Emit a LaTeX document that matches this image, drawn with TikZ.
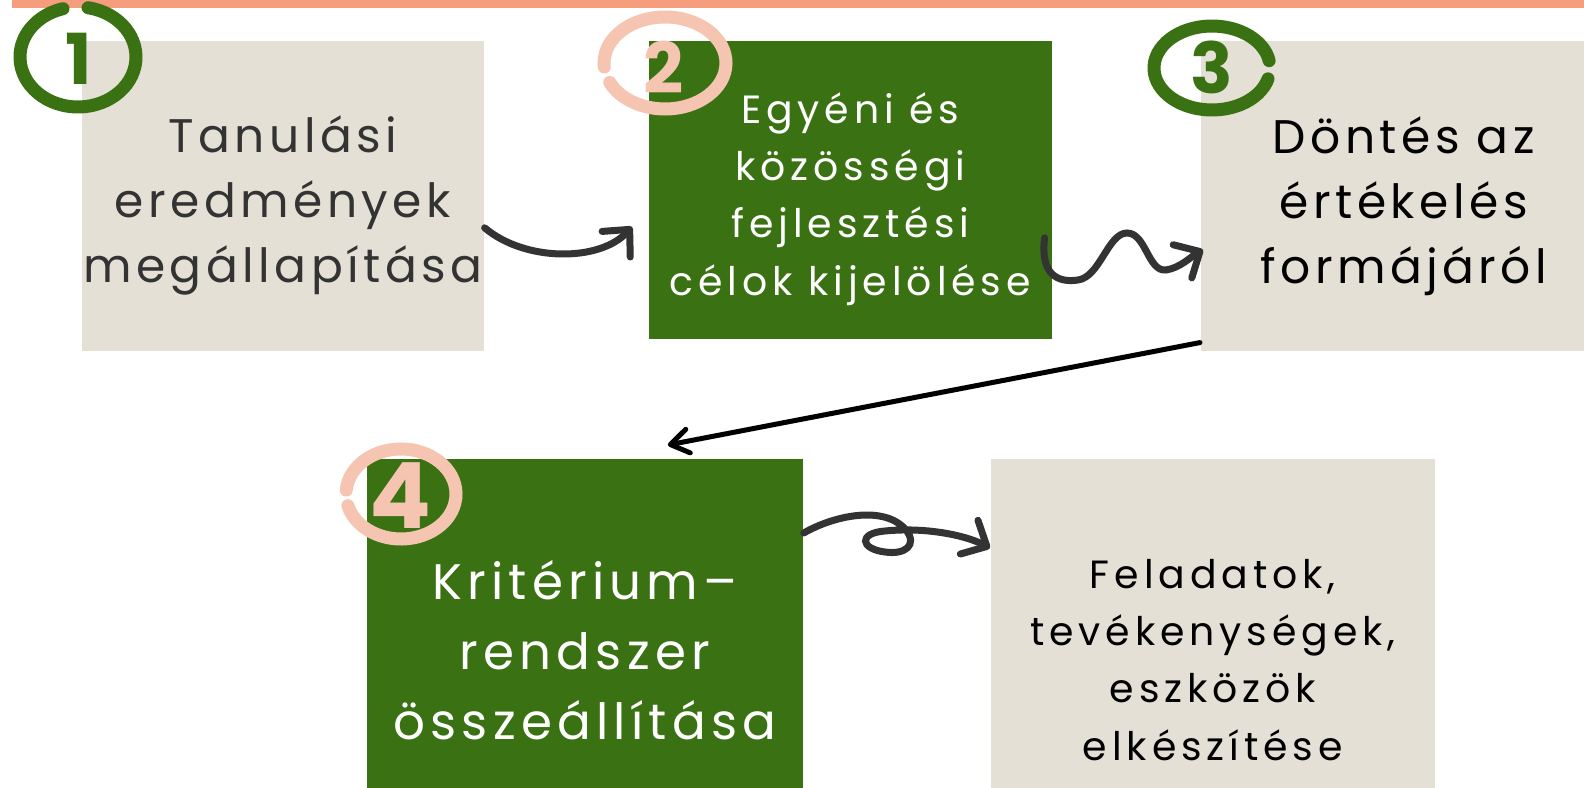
\documentclass[tikz,border=0pt]{standalone}
\usepackage{fontspec}
\setmainfont{Poppins}
\usetikzlibrary{arrows.meta}
\definecolor{barorange}{HTML}{F59D7D}
\definecolor{boxbeige}{HTML}{E4E0D6}
\definecolor{boxgreen}{HTML}{3A7213}
\definecolor{ringpink}{HTML}{F5C5B2}
\definecolor{inkgray}{HTML}{333333}
\tikzset{
	beigebox/.style={fill=boxbeige, inner sep=0pt, anchor=north west},
	greenbox/.style={fill=boxgreen, inner sep=0pt, anchor=north west},
	boxtext/.style={inner sep=0pt, align=center},
	bigtext/.style={boxtext, font=\addfontfeature{LetterSpace=9.5}\fontsize{13.4}{18.5}\selectfont},
	smalltext/.style={boxtext, font=\addfontfeature{LetterSpace=12.5}\fontsize{11.2}{16.3}\selectfont},
	ring/.style={line width=0.13cm, line cap=round},
	digit/.style={font=\bfseries\fontsize{20}{20}\selectfont, inner sep=0pt},
	curvy/.style={inkgray, line width=0.07cm, line cap=round, -{Straight Barb[length=0.2cm,width=0.38cm,round]}}
}
\begin{document}
\begin{tikzpicture}[x=0.01cm,y=-0.01cm]
	\useasboundingbox (0,0) rectangle (1584,788);
	\fill[barorange] (12,0) rectangle (1584,8);
	\node[beigebox, minimum width=4.02cm, minimum height=3.1cm] (b1) at (81,40) {};
	\node[greenbox, minimum width=4.03cm, minimum height=2.98cm] (b2) at (648,40) {};
	\node[beigebox, minimum width=4.02cm, minimum height=3.1cm] (b3) at (1200,40) {};
	\node[greenbox, minimum width=4.36cm, minimum height=3.82cm] (b4) at (366,458) {};
	\node[beigebox, minimum width=4.44cm, minimum height=4.02cm] (b5) at (990,458) {};
	\node[bigtext, text=inkgray] (t1) at ([yshift=-0.1cm]b1.center) {Tanulási\\eredmények\\megállapítása};
	\node[smalltext, text=white] (t2) at ([yshift=-0.09cm]b2.center) {Egyéni és\\közösségi\\fejlesztési\\célok kijelölése};
	\node[bigtext] (t3) at ([xshift=0.02cm,yshift=-0.1cm]b3.center) {Döntés az\\értékelés\\formájáról};
	\node[bigtext, text=white, font=\addfontfeature{LetterSpace=10.5}\fontsize{14.2}{19.9}\selectfont] (t4) at (b4.center) {Kritérium–\\rendszer\\összeállítása};
	\node[smalltext] (t5) at (b5.center) {Feladatok,\\tevékenységek,\\eszközök\\elkészítése};
	\draw[ring, boxgreen] (78,57) ++(-80:58 and 50) arc[start angle=-80, end angle=255, x radius=58, y radius=50];
	\draw[ring, ringpink] (665,63) ++(175:61 and 46) arc[start angle=175, end angle=515, x radius=61, y radius=46];
	\draw[ring, boxgreen] (1212,68) ++(15:58 and 42) arc[start angle=15, end angle=350, x radius=58, y radius=42];
	\draw[ring, ringpink] (401,494) ++(185:55 and 45) arc[start angle=185, end angle=525, x radius=55, y radius=45];
	\node[digit, text=boxgreen] (n1) at (79,59) {1};
	\node[digit, text=ringpink] (n2) at (664,67) {2};
	\node[digit, text=boxgreen] (n3) at (1212,67) {3};
	\node[digit, text=ringpink, font=\bfseries\fontsize{26}{26}\selectfont] (n4) at (400,496) {4};
	\draw[curvy] ([yshift=-0.32cm]b1.east) .. controls (525,262) and (600,262) .. ([xshift=-0.16cm,yshift=-0.37cm]b2.west);
	\draw[curvy] ([xshift=-0.08cm,yshift=-0.48cm]b2.east) .. controls (1040,275) and (1058,283) .. (1078,280) .. controls (1100,277) and (1108,233) .. (1127,233) .. controls (1146,233) and (1148,272) .. (1166,270) .. controls (1180,268) and (1192,256) .. ([xshift=0.03cm,yshift=-0.54cm]b3.west);
	\draw[black, line width=0.05cm, line cap=round, -{Straight Barb[length=0.18cm,width=0.24cm,round]}] ([yshift=0.09cm]b3.south west) -- ([xshift=0.83cm,yshift=0.13cm]b4.north);
	\draw[curvy] ([yshift=-0.75cm]b4.north east) .. controls (835,515) and (885,505) .. (906,530) .. controls (918,545) and (905,555) .. (885,552) .. controls (860,549) and (858,533) .. (885,531) .. controls (925,527) and (965,535) .. ([yshift=-0.9cm]b5.north west);
\end{tikzpicture}
\end{document}
